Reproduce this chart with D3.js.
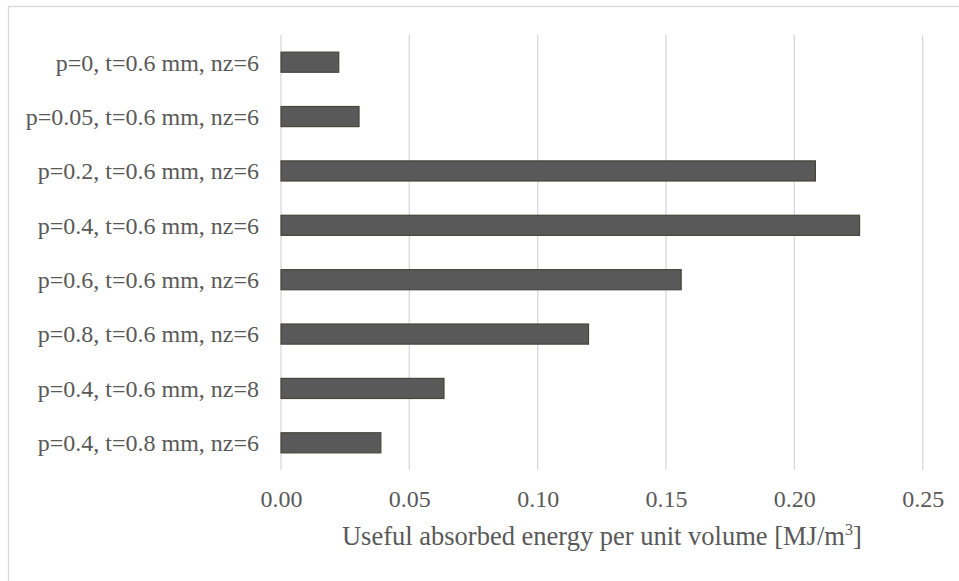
<!DOCTYPE html>
<html>
<head>
<meta charset="utf-8">
<script src="https://cdn.jsdelivr.net/npm/d3@7"></script>
<style>
  html, body { margin: 0; padding: 0; background: #fff; }
  svg { display: block; }
  text { font-family: "Liberation Serif", "Times New Roman", serif; fill: #595959; }
</style>
</head>
<body>
<svg id="chart" width="959" height="581"></svg>
<script>
const categories = [
  "p=0, t=0.6 mm, nz=6",
  "p=0.05, t=0.6 mm, nz=6",
  "p=0.2, t=0.6 mm, nz=6",
  "p=0.4, t=0.6 mm, nz=6",
  "p=0.6, t=0.6 mm, nz=6",
  "p=0.8, t=0.6 mm, nz=6",
  "p=0.4, t=0.6 mm, nz=8",
  "p=0.4, t=0.8 mm, nz=6"
];
const values = [0.0225, 0.0304, 0.2082, 0.2254, 0.1559, 0.1198, 0.0635, 0.0389];
const xTicks = [0, 0.05, 0.10, 0.15, 0.20, 0.25];
const xTitle = "Useful absorbed energy per unit volume [MJ/m";

const svg = d3.select("#chart");
const W = 959, H = 581;
const m = { left: 281, right: 959 - 922.7, top: 35, bottom: 581 - 470 };

// outer border
svg.append("rect")
  .attr("x", 8.5).attr("y", 6.5)
  .attr("width", 1000).attr("height", 1000)
  .attr("fill", "none").attr("stroke", "#d9d9d9").attr("stroke-width", 1.3);

const x = d3.scaleLinear().domain([0, 0.25]).range([m.left, W - m.right]);
const y = d3.scaleBand().domain(categories).range([m.top, H - m.bottom]).paddingInner(0.63).paddingOuter(0.315);

// gridlines
svg.append("g").selectAll("line").data(xTicks).join("line")
  .attr("x1", d => x(d)).attr("x2", d => x(d))
  .attr("y1", m.top).attr("y2", H - m.bottom)
  .attr("stroke", "#d9d9d9").attr("stroke-width", 1.3);

// bars
svg.append("g").selectAll("rect").data(values).join("rect")
  .attr("x", x(0))
  .attr("y", (d, i) => y(categories[i]))
  .attr("width", d => x(d) - x(0))
  .attr("height", y.bandwidth())
  .attr("fill", "#595959")
  .attr("stroke", "#46463a").attr("stroke-width", 1.2);

// x tick labels
const xAxis = d3.axisBottom(x).tickValues(xTicks).tickFormat(d3.format(".2f")).tickSize(0).tickPadding(0);
const gx = svg.append("g").attr("transform", `translate(0,${H - m.bottom})`).call(xAxis);
gx.select(".domain").remove();
gx.selectAll("text").attr("dy", null).attr("y", 37)
  .style("font-size", "24px").style("fill", "#595959")
  .style("font-family", '"Liberation Serif", serif');

// y labels
const yAxis = d3.axisLeft(y).tickSize(0).tickPadding(22);
const gy = svg.append("g").attr("transform", `translate(${x(0)},0)`).call(yAxis);
gy.select(".domain").remove();
gy.selectAll("text").attr("dy", "0.35em")
  .style("font-size", "24px").style("fill", "#595959")
  .style("font-family", '"Liberation Serif", serif');

// axis title
const t = svg.append("text")
  .attr("x", (x(0) + x(0.25)) / 2).attr("y", 545)
  .attr("text-anchor", "middle")
  .style("font-size", "26.5px");
t.append("tspan").text(xTitle);
t.append("tspan").text("3").attr("dy", -10).style("font-size", "16px");
t.append("tspan").text("]").attr("dy", 10);
</script>
</body>
</html>
